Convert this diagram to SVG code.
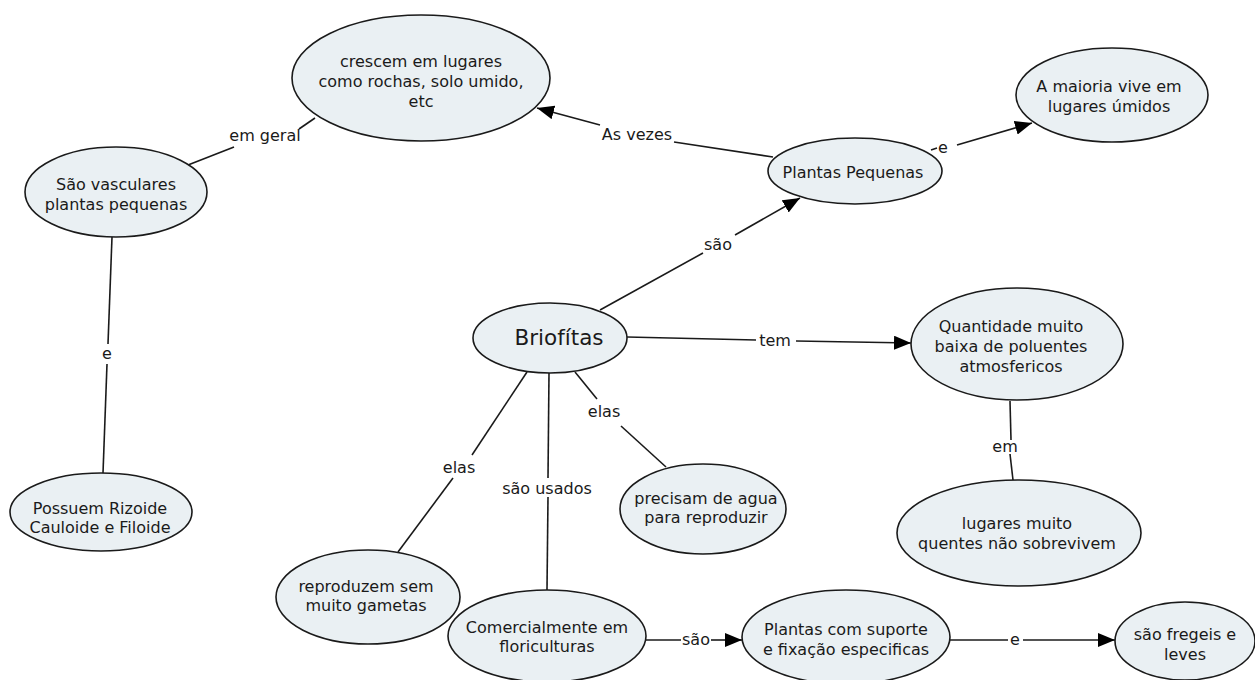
<svg xmlns="http://www.w3.org/2000/svg" width="1255" height="680" viewBox="0 0 1255 680">
<style>
.n{fill:#eaf0f3;stroke:#1a1a1a;stroke-width:1.6}
.t{font-family:"DejaVu Sans","Liberation Sans",sans-serif;font-size:16px;fill:#1a1a1a;text-anchor:middle}
.b{font-size:21.5px}
.c{stroke:#1a1a1a;stroke-width:1.6;fill:none}
.a{marker-end:url(#ar)}
</style>
<defs>
<marker id="ar" markerUnits="userSpaceOnUse" markerWidth="18" markerHeight="14" refX="17" refY="7" orient="auto">
<path d="M0,0 L17,7 L0,14 Z" fill="#000"/>
</marker>
</defs>
<rect width="1255" height="680" fill="#fff"/>
<g id="connectors">
<line class="c" x1="188" y1="165" x2="234" y2="147"/>
<line class="c" x1="299" y1="129" x2="315" y2="118"/>
<text class="t" x="265" y="141">em geral</text>
<line class="c" x1="112" y1="237" x2="108" y2="344"/>
<line class="c" x1="107" y1="364" x2="103" y2="473"/>
<text class="t" x="107" y="359">e</text>
<line class="c" x1="773" y1="157" x2="674" y2="142"/>
<line class="c a" x1="600" y1="125" x2="537" y2="108"/>
<text class="t" x="637" y="140">As vezes</text>
<line class="c" x1="931" y1="150" x2="937" y2="148"/>
<line class="c a" x1="957" y1="145" x2="1032" y2="123"/>
<text class="t" x="943" y="153">e</text>
<line class="c" x1="600" y1="310" x2="703" y2="253"/>
<line class="c a" x1="735" y1="235" x2="800" y2="198"/>
<text class="t" x="718" y="250">são</text>
<line class="c" x1="627" y1="337" x2="756" y2="340"/>
<line class="c a" x1="796" y1="341" x2="911" y2="343"/>
<text class="t" x="775" y="346">tem</text>
<line class="c" x1="575" y1="372" x2="597" y2="399"/>
<line class="c" x1="621" y1="426" x2="666" y2="467"/>
<text class="t" x="604" y="417">elas</text>
<line class="c" x1="527" y1="372" x2="472" y2="455"/>
<line class="c" x1="453" y1="478" x2="398" y2="552"/>
<text class="t" x="459" y="473">elas</text>
<line class="c" x1="549" y1="373" x2="548" y2="478"/>
<line class="c" x1="548" y1="497" x2="547" y2="590"/>
<text class="t" x="547" y="494">são usados</text>
<line class="c" x1="1010" y1="401" x2="1011" y2="440"/>
<line class="c" x1="1010" y1="454" x2="1013" y2="480"/>
<text class="t" x="1005" y="452">em</text>
<line class="c" x1="645" y1="640" x2="681" y2="640"/>
<line class="c a" x1="711" y1="640" x2="742" y2="640"/>
<text class="t" x="696" y="645">são</text>
<line class="c" x1="950" y1="640" x2="1008" y2="640"/>
<line class="c a" x1="1023" y1="640" x2="1115" y2="640"/>
<text class="t" x="1015" y="645">e</text>
</g>
<g id="n-crescem">
<ellipse class="n" cx="421" cy="78" rx="129" ry="63"/>
<text class="t" x="421" y="67">crescem em lugares</text>
<text class="t" x="421" y="87">como rochas, solo umido,</text>
<text class="t" x="421" y="107">etc</text>
</g>
<g id="n-vasculares">
<ellipse class="n" cx="116" cy="192" rx="91" ry="45"/>
<text class="t" x="116" y="190">São vasculares</text>
<text class="t" x="116" y="210">plantas pequenas</text>
</g>
<g id="n-plantas-pequenas">
<ellipse class="n" cx="855" cy="171" rx="87" ry="33"/>
<text class="t" x="853" y="178">Plantas Pequenas</text>
</g>
<g id="n-maioria">
<ellipse class="n" cx="1112" cy="95" rx="96" ry="47"/>
<text class="t" x="1109" y="92">A maioria vive em</text>
<text class="t" x="1109" y="112">lugares úmidos</text>
</g>
<g id="n-briofitas">
<ellipse class="n" cx="550" cy="338" rx="77" ry="35"/>
<text class="t b" x="559" y="345">Briofítas</text>
</g>
<g id="n-quantidade">
<ellipse class="n" cx="1017" cy="344" rx="106" ry="56"/>
<text class="t" x="1011" y="332">Quantidade muito</text>
<text class="t" x="1011" y="352">baixa de poluentes</text>
<text class="t" x="1011" y="372">atmosfericos</text>
</g>
<g id="n-quentes">
<ellipse class="n" cx="1019" cy="533" rx="122" ry="53"/>
<text class="t" x="1017" y="529">lugares muito</text>
<text class="t" x="1017" y="549">quentes não sobrevivem</text>
</g>
<g id="n-possuem">
<ellipse class="n" cx="101" cy="512" rx="91" ry="39"/>
<text class="t" x="100" y="514">Possuem Rizoide</text>
<text class="t" x="100" y="533">Cauloide e Filoide</text>
</g>
<g id="n-precisam">
<ellipse class="n" cx="703" cy="509" rx="83" ry="45"/>
<text class="t" x="706" y="504">precisam de agua</text>
<text class="t" x="706" y="523">para reproduzir</text>
</g>
<g id="n-reproduzem">
<ellipse class="n" cx="368" cy="597" rx="92" ry="47"/>
<text class="t" x="366" y="592">reproduzem sem</text>
<text class="t" x="366" y="611">muito gametas</text>
</g>
<g id="n-comercialmente">
<ellipse class="n" cx="547" cy="636" rx="99" ry="46"/>
<text class="t" x="547" y="633">Comercialmente em</text>
<text class="t" x="547" y="652">floriculturas</text>
</g>
<g id="n-suporte">
<ellipse class="n" cx="846" cy="637" rx="104" ry="47"/>
<text class="t" x="846" y="635">Plantas com suporte</text>
<text class="t" x="846" y="655">e fixação especificas</text>
</g>
<g id="n-fregeis">
<ellipse class="n" cx="1185" cy="641" rx="70" ry="39"/>
<text class="t" x="1185" y="640">são fregeis e</text>
<text class="t" x="1185" y="660">leves</text>
</g>
</svg>
